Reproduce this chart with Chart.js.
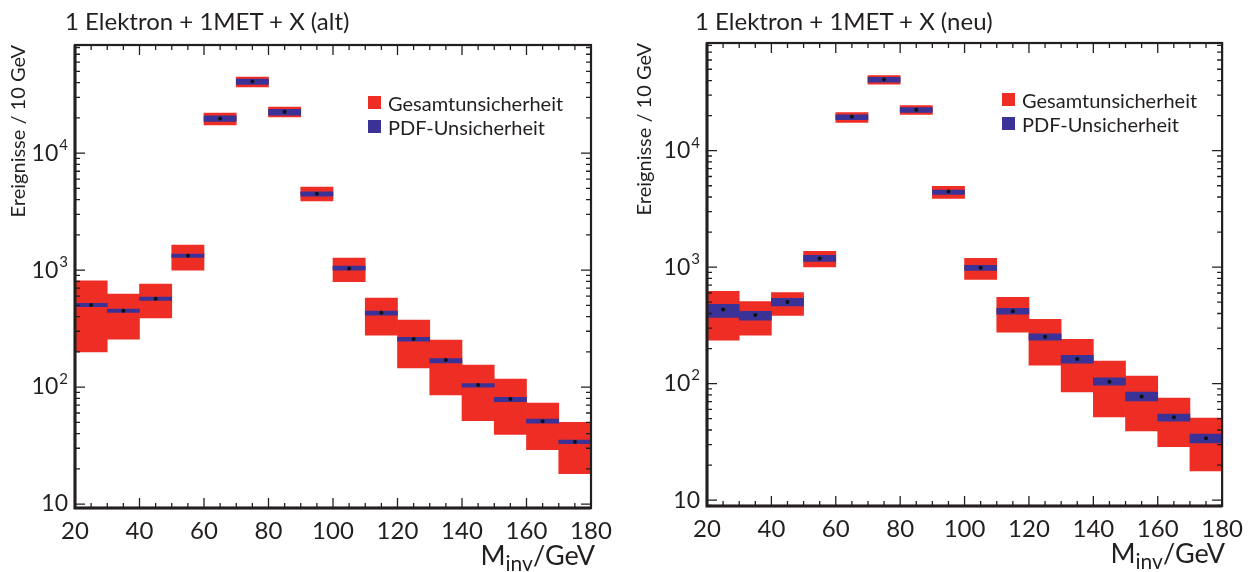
<!DOCTYPE html>
<html>
<head>
<meta charset="utf-8">
<script src="https://cdn.jsdelivr.net/npm/chart.js@4.4.1/dist/chart.umd.min.js"></script>
<style>
  body { margin: 0; background: #fff; font-family: Lato, "Open Sans", sans-serif; color: #231f20; }
  #page { position: relative; width: 1252px; height: 572px; overflow: hidden; }
  .panel { position: absolute; top: 0; width: 626px; height: 572px; }
  .title { position: absolute; font-size: 24px; line-height: 24px; white-space: nowrap; }
  .legend { position: absolute; font-size: 20px; line-height: 24px; }
  .legend div { position: relative; padding-left: 20px; white-space: nowrap; }
  .legend span { position: absolute; left: 0; top: 5px; width: 13px; height: 13px; }
  .xtitle { position: absolute; font-size: 27px; line-height: 27px; white-space: nowrap; }
  .xtitle sub { font-size: 21px; vertical-align: -6px; }
</style>
</head>
<body>
<div id="page">
  <div class="panel" style="left:0">
    <canvas id="chartAlt"></canvas>
  </div>
  <div class="panel" style="left:626px">
    <canvas id="chartNeu"></canvas>
  </div>
  <div class="title" style="left:65px; top:9px">1 Elektron + 1MET + X (alt)</div>
  <div class="title" style="left:695px; top:9px">1 Elektron + 1MET + X (neu)</div>
  <div class="legend" style="left:368px; top:91px">
    <div><span style="background:#ee2e24"></span>Gesamtunsicherheit</div>
    <div><span style="background:#3a3296"></span>PDF-Unsicherheit</div>
  </div>
  <div class="legend" style="left:1002px; top:88px">
    <div><span style="background:#ee2e24"></span>Gesamtunsicherheit</div>
    <div><span style="background:#3a3296"></span>PDF-Unsicherheit</div>
  </div>
  <div class="xtitle" style="right:657px; top:541px">M<sub>inv</sub>/GeV</div>
  <div class="xtitle" style="right:27px; top:539px">M<sub>inv</sub>/GeV</div>
</div>
<script>
// bin centres in GeV (10 GeV bins from 20 to 180)
const binCenters = [25, 35, 45, 55, 65, 75, 85, 95, 105, 115, 125, 135, 145, 155, 165, 175];

// "alt"
const valAlt   = [502, 449, 569, 1325, 19800, 41000, 22550, 4490, 1033, 432, 257, 170, 104, 79, 50.9, 34.1];
const totLoAlt = [200, 257, 391, 1000, 17460, 36880, 20420, 3910, 795, 278, 146, 85.5, 51.5, 39.4, 29.1, 18.2];
const totHiAlt = [811, 624, 759, 1636, 21980, 44650, 24720, 5120, 1267, 576, 374, 252, 154, 117, 73, 49.9];
const pdfLoAlt = [486, 435, 551, 1283, 18660, 38650, 21130, 4290, 1000, 412, 247, 161, 100, 74.9, 49.2, 32.8];
const pdfHiAlt = [519, 464, 588, 1369, 20840, 42900, 23620, 4670, 1082, 446, 266, 175, 107, 81.6, 53.3, 35.2];

// "neu"
const valNeu   = [432, 388, 502, 1189, 19540, 40800, 22430, 4470, 990, 418, 252, 163, 104, 77.5, 51.5, 34.0];
const totLoNeu = [236, 260, 386, 1005, 17460, 37170, 20430, 3890, 786, 276, 144, 84.9, 51.8, 39.3, 28.7, 17.8];
const totHiNeu = [620, 506, 604, 1366, 21270, 44150, 24420, 4930, 1189, 551, 357, 240, 156, 116, 75, 50.5];
const pdfLoNeu = [371, 350, 464, 1122, 18410, 38700, 21270, 4210, 939, 394, 236, 150, 96.9, 71.1, 47.6, 31.0];
const pdfHiNeu = [480, 418, 540, 1263, 20310, 42700, 23460, 4590, 1036, 443, 267, 175, 112, 84.4, 54.7, 36.8];

// axis ticks
const xTickValues = [20, 40, 60, 80, 100, 120, 140, 160, 180];
const yTickValues = [10, 100, 1000, 10000];
const yTickExponents = ['', '2', '3', '4'];

const red = '#ee2e24';
const blue = '#3a3296';
const ink = '#231f20';
const fontFamily = 'Lato, "Open Sans", sans-serif';

Chart.defaults.font.family = fontFamily;
Chart.defaults.color = ink;

// frame, inward ticks (ROOT style) and 10^n labels
const frameTicks = {
    id: 'frameTicks',
    afterDatasetsDraw(chart) {
        const { ctx, chartArea: a, scales: { x, y } } = chart;
        ctx.save();
        ctx.strokeStyle = ink;
        ctx.lineWidth = 1.3;
        ctx.beginPath();
        for (let v = x.min; v <= x.max; v += 5) {
            const px = x.getPixelForValue(v);
            const len = v % 20 === 0 ? 10 : 5;
            ctx.moveTo(px, a.bottom); ctx.lineTo(px, a.bottom - len);
            ctx.moveTo(px, a.top); ctx.lineTo(px, a.top + len);
        }
        for (let e = 0; e < 6; e++) {
            for (let m = 1; m < 10; m++) {
                const v = m * Math.pow(10, e);
                if (v < y.min || v > y.max) continue;
                const py = y.getPixelForValue(v);
                const len = m === 1 ? 10 : 5;
                ctx.moveTo(a.left, py); ctx.lineTo(a.left + len, py);
                ctx.moveTo(a.right, py); ctx.lineTo(a.right - len, py);
            }
        }
        ctx.stroke();

        ctx.lineWidth = 2.2;
        ctx.strokeRect(a.left, a.top, a.right - a.left, a.bottom - a.top);
        ctx.lineWidth = 3;
        ctx.beginPath();
        ctx.moveTo(a.left, a.top); ctx.lineTo(a.left, a.bottom); ctx.lineTo(a.right, a.bottom);
        ctx.stroke();

        ctx.fillStyle = ink;
        ctx.textBaseline = 'middle';
        ctx.textAlign = 'right';
        yTickValues.forEach((v, i) => {
            const py = y.getPixelForValue(v);
            let right = a.left - 7;
            const exp = yTickExponents[i];
            if (exp) {
                ctx.font = '15px ' + fontFamily;
                ctx.fillText(exp, right, py - 8);
                right -= ctx.measureText(exp).width + 1;
            }
            ctx.font = '23px ' + fontFamily;
            ctx.fillText('10', right, py);
        });
        ctx.restore();
    }
};

function makeChart(id, vals, totLo, totHi, pdfLo, pdfHi, geo) {
    const ctx = document.getElementById(id).getContext('2d');
    return new Chart(ctx, {
        type: 'bar',
        data: {
            datasets: [{
                label: 'Gesamtunsicherheit',
                data: binCenters.map((c, i) => ({ x: c, y: [totLo[i], totHi[i]] })),
                backgroundColor: red,
                borderWidth: 0,
                grouped: false,
                categoryPercentage: 1,
                barPercentage: 1,
                order: 3
            }, {
                label: 'PDF-Unsicherheit',
                data: binCenters.map((c, i) => ({ x: c, y: [pdfLo[i], pdfHi[i]] })),
                backgroundColor: blue,
                borderWidth: 0,
                grouped: false,
                categoryPercentage: 1,
                barPercentage: 1,
                order: 2
            }, {
                type: 'scatter',
                label: 'Wert',
                data: binCenters.map((c, i) => ({ x: c, y: vals[i] })),
                pointRadius: 2,
                pointBackgroundColor: '#111',
                pointBorderWidth: 0,
                order: 1
            }]
        },
        options: {
            responsive: false,
            animation: false,
            layout: { padding: { top: geo.top, right: geo.right, left: 0, bottom: 0 } },
            plugins: { legend: { display: false }, tooltip: { enabled: false } },
            scales: {
                x: {
                    type: 'linear',
                    min: 20,
                    max: 180,
                    offset: false,
                    grid: { display: false, drawTicks: false },
                    border: { display: false },
                    afterBuildTicks: axis => { axis.ticks = xTickValues.map(v => ({ value: v })); },
                    afterFit: s => { s.height = geo.xh; },
                    ticks: { font: { size: 24 }, color: ink, padding: 9, maxRotation: 0 }
                },
                y: {
                    type: 'logarithmic',
                    min: geo.ymin,
                    max: 84000,
                    grid: { display: false, drawTicks: false },
                    border: { display: false },
                    afterFit: s => { s.width = geo.yw; },
                    ticks: { display: false },
                    title: {
                        display: true,
                        text: 'Ereignisse / 10 GeV',
                        align: 'end',
                        font: { size: 20 },
                        color: ink,
                        padding: { top: 7, bottom: 0 }
                    }
                }
            }
        },
        plugins: [frameTicks]
    });
}

function sizeCanvas(id) {
    const c = document.getElementById(id);
    c.width = 626; c.height = 572;
    c.style.width = '626px'; c.style.height = '572px';
}
sizeCanvas('chartAlt');
sizeCanvas('chartNeu');

makeChart('chartAlt', valAlt, totLoAlt, totHiAlt, pdfLoAlt, pdfHiAlt,
    { top: 45, right: 35, xh: 64, yw: 75, ymin: 9.25 });
makeChart('chartNeu', valNeu, totLoNeu, totHiNeu, pdfLoNeu, pdfHiNeu,
    { top: 43, right: 29, xh: 66, yw: 81, ymin: 8.9 });
</script>
</body>
</html>
